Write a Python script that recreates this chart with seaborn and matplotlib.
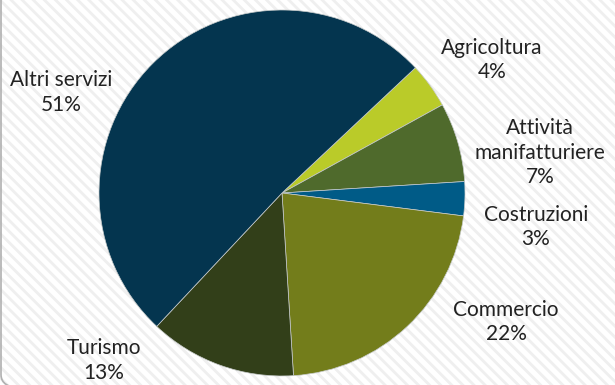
import matplotlib
matplotlib.use("Agg")
import matplotlib.pyplot as plt
import seaborn as sns
from matplotlib.patches import Rectangle, FancyBboxPatch

# Employment share by sector (%)
sectors = ["Agricoltura", "Attività\nmanifatturiere", "Costruzioni",
           "Commercio", "Turismo", "Altri servizi"]
shares = [4, 7, 3, 22, 13, 51]
colors = ["#BACB29", "#4F6A2C", "#005B87", "#737D1B", "#323F19", "#04354F"]

# label block centres, in units of the pie radius
label_xy = [(1.148, 0.727), (1.41, 0.219), (1.388, -0.186),
            (1.224, -0.705), (-0.973, -0.915), (-1.208, 0.55)]

sns.set_theme(style="white")
plt.rcParams["font.family"] = ["Lato", "DejaVu Sans"]

W, H, DPI = 615, 385, 100
fig = plt.figure(figsize=(W / DPI, H / DPI), dpi=DPI)
fig.patch.set_facecolor("white")

# striped backdrop
plt.rcParams["hatch.linewidth"] = 2.0
plt.rcParams["hatch.color"] = "#efefef"
fig.patches.append(Rectangle((0, 0), 1, 1, transform=fig.transFigure,
                             facecolor="white", edgecolor="#efefef",
                             hatch="\\\\\\", linewidth=0, zorder=-3))
# rounded frame (only its left side and lower-left corner fall on the canvas)
fig.patches.append(FancyBboxPatch((1.0 / W, -3.0 / H), 1.2, 1.2,
                                  boxstyle="round,pad=0,rounding_size=0.035",
                                  transform=fig.transFigure, facecolor="none",
                                  edgecolor="#b0b0b0", linewidth=1.2, zorder=-2))

cx, cy, r = 282, 193, 183
ax = fig.add_axes([0, 0, 1, 1])
ax.set_zorder(1)
ax.patch.set_alpha(0)
wedges, _ = ax.pie(shares, colors=colors, startangle=43.2, counterclock=False,
                   radius=1.0,
                   wedgeprops=dict(edgecolor="#c8cccc", linewidth=0.5))

for name, val, (lx, ly) in zip(sectors, shares, label_xy):
    ax.text(lx, ly, f"{name}\n{val}%", ha="center", va="center",
            fontsize=15, fontweight="normal", color="#222222",
            linespacing=1.28)

ax.set_aspect("auto")
ax.set_xlim(-cx / r, (W - cx) / r)
ax.set_ylim(-(H - cy) / r, cy / r)
ax.axis("off")

fig.savefig("out.png", dpi=DPI)
